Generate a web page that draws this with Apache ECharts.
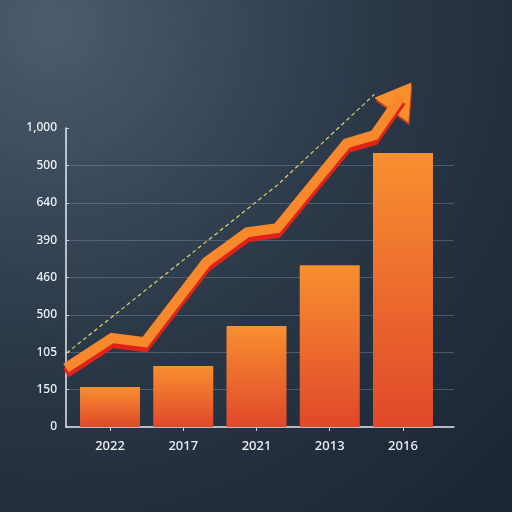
<!DOCTYPE html>
<html><head><meta charset="utf-8">
<script src="https://cdn.jsdelivr.net/npm/echarts@6/dist/echarts.min.js"></script>
<style>html,body{margin:0;padding:0;background:#26333f}#c{width:512px;height:512px}</style>
</head><body><div id="c"></div>
<script>
const categories = ['2022', '2017', '2021', '2013', '2016'];
const yTickLabels = ['0', '150', '105', '500', '460', '390', '640', '500', '1,000'];
const barValues = [1.07, 1.63, 2.70, 4.33, 7.33];
const trendX = [-0.6, 0.03, 0.48, 1.32, 1.88, 2.29, 3.24, 3.62, 3.99];
const trendY = [1.58, 2.38, 2.27, 4.41, 5.21, 5.32, 7.59, 7.81, 8.85];
const dashX = [-0.59, 2.29, 3.62];
const dashY = [1.98, 6.47, 8.90];

const chart = echarts.init(document.getElementById('c'));
const gridCol = 'rgba(120,140,160,0.45)';
const splitColors = yTickLabels.map((_, i) => (i === 0 || i === yTickLabels.length - 1) ? 'rgba(0,0,0,0)' : gridCol);
const last = trendX.length - 1;

chart.setOption({
  backgroundColor: {
    type: 'radial', x: 0.1, y: 0.05, r: 1.25,
    colorStops: [{offset: 0, color: '#4b5c6e'}, {offset: 0.5, color: '#2b3848'}, {offset: 1, color: '#1b2634'}]
  },
  animation: false,
  grid: [
    {left: 66, right: 58, top: 128, bottom: 85},
    {left: 73.4, right: 72.4, top: 128, bottom: 85}
  ],
  xAxis: [
    {gridIndex: 0, type: 'value', min: -0.6, max: 4.71,
     axisLine: {show: true, onZero: false, lineStyle: {color: '#e6eaee', width: 1.5}},
     axisTick: {show: false}, axisLabel: {show: false}, splitLine: {show: false}},
    {gridIndex: 1, type: 'category', data: categories,
     axisLine: {show: false},
     axisTick: {show: true, alignWithLabel: true, length: 4, lineStyle: {color: '#c8ced4'}},
     axisLabel: {color: '#eef1f4', fontSize: 13, fontWeight: 500, fontFamily: 'Noto Sans', margin: 13}}
  ],
  yAxis: [
    {gridIndex: 0, type: 'value', min: 0, max: 8, interval: 1,
     axisLine: {show: true, onZero: false, lineStyle: {color: '#e6eaee', width: 1.5}},
     axisTick: {show: true, inside: true, length: 3, lineStyle: {color: '#c8ced4'}},
     axisLabel: {color: '#eef1f4', fontSize: 12, fontWeight: 500, fontFamily: 'Noto Sans', margin: 9,
                 formatter: v => yTickLabels[Math.round(v)]},
     splitLine: {show: true, lineStyle: {color: splitColors, width: 1}}},
    {gridIndex: 1, type: 'value', min: 0, max: 8, interval: 1, show: false}
  ],
  series: [
    {type: 'bar', xAxisIndex: 1, yAxisIndex: 1, data: barValues, barWidth: 60,
     itemStyle: {color: {type: 'linear', x: 0, y: 0, x2: 0, y2: 1,
       colorStops: [{offset: 0, color: '#f88f30'}, {offset: 1, color: '#e0482a'}]}}},
    {type: 'line', xAxisIndex: 0, yAxisIndex: 0, clip: false, symbol: 'none',
     data: dashX.map((x, i) => [x, dashY[i]]),
     lineStyle: {color: '#e8d26a', width: 1.2, type: [4, 3]}},
    {type: 'line', xAxisIndex: 0, yAxisIndex: 0, clip: false, symbol: 'none',
     data: trendX.map((x, i) => [x, trendY[i]]),
     lineStyle: {color: '#f7892c', width: 10, join: 'miter', cap: 'butt',
                 shadowColor: '#e1221b', shadowOffsetY: 5, shadowBlur: 0}},
    {type: 'scatter', xAxisIndex: 0, yAxisIndex: 0, clip: false,
     data: [[trendX[last], trendY[last]]],
     symbol: 'triangle', symbolSize: [42, 34], symbolRotate: -36,
     itemStyle: {color: '#f8902e', opacity: 1, shadowColor: '#d93a1a', shadowOffsetY: 3, shadowOffsetX: 1, shadowBlur: 0}}
  ]
});
</script></body></html>
